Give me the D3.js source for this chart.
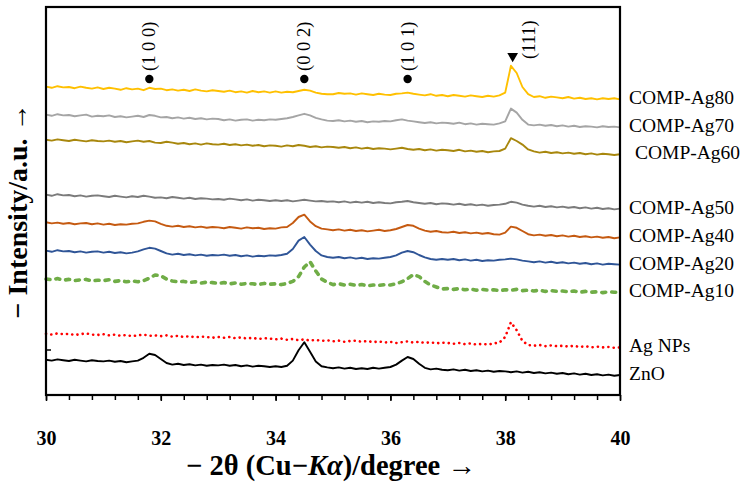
<!DOCTYPE html>
<html lang="en">
<head>
<meta charset="UTF-8">
<script src="https://d3js.org/d3.v7.min.js"></script>
<style>
    body { margin: 0; background: #fff; }
    text { font-family: "Liberation Serif", "Times New Roman", serif; }
    .series { fill: none; stroke-linejoin: round; }
</style>
</head>
<body>
<div id="chart"></div>
<script>
// 2-theta sampling grid, 30.0 .. 40.0 step 0.1
var twoTheta = d3.range(0, 101).map(function (i) { return +(30 + i * 0.1).toFixed(1); });

var ag80 = [77.1,76.8,77.2,76.9,77.0,76.7,77.1,76.8,76.6,76.9,
    76.5,76.8,76.6,76.3,76.7,76.4,76.6,76.2,76.8,76.5,
    76.6,76.2,76.4,76.1,76.3,76.0,76.4,76.1,75.9,76.2,
    76.0,75.8,76.1,75.7,75.9,75.6,76.0,75.7,75.9,75.6,
    75.9,75.6,75.8,75.7,76.0,76.3,76.1,75.6,75.3,75.2,
    75.2,75.5,75.3,75.4,75.1,75.4,75.2,75.0,75.3,75.1,
    75.0,75.3,75.4,75.6,75.3,75.1,74.9,75.2,74.8,75.0,
    74.7,75.0,74.8,74.6,74.9,74.7,74.5,74.8,74.6,74.9,
    75.6,82.3,80.5,77.0,75.2,74.5,74.7,74.3,74.6,74.4,
    74.2,74.5,74.1,74.3,74.0,74.2,73.9,74.2,74.0,74.2,73.9];
var ag70 = [70.1,69.8,70.2,69.9,70.0,69.7,69.9,70.1,69.6,69.8,
    69.7,69.9,69.5,69.7,69.4,69.6,69.8,69.5,70.0,69.8,
    69.4,69.5,69.2,69.4,69.1,69.3,69.0,69.2,68.9,69.1,
    69.0,68.7,68.9,68.6,68.8,68.9,68.6,68.8,68.7,68.9,
    68.8,69.0,69.2,69.5,69.9,70.3,69.9,69.3,68.9,68.6,
    68.5,68.7,68.4,68.6,68.3,68.5,68.2,68.4,68.3,68.5,
    68.4,68.7,68.9,68.6,68.4,68.2,68.0,68.2,67.9,68.1,
    68.0,67.8,68.1,67.7,67.9,67.6,67.8,67.7,67.6,67.9,
    68.4,71.6,70.6,68.8,67.6,67.4,67.6,67.3,67.5,67.2,
    67.4,67.1,67.3,67.0,67.2,67.1,66.9,67.2,67.0,67.1,66.9];
var ag60 = [63.8,63.6,63.9,63.7,63.5,63.8,63.6,63.4,63.7,63.5,
    63.4,63.6,63.3,63.5,63.2,63.4,63.6,63.3,63.5,63.1,
    63.0,63.3,63.1,62.8,63.0,62.7,62.9,62.6,62.9,62.7,
    62.6,62.8,62.5,62.7,62.4,62.6,62.3,62.5,62.2,62.4,
    62.3,62.1,62.4,62.2,62.5,62.3,62.0,62.2,61.9,62.1,
    62.0,61.8,62.0,61.7,61.9,61.6,61.8,61.5,61.7,61.6,
    61.4,61.6,61.8,61.5,61.3,61.5,61.2,61.4,61.1,61.3,
    61.2,61.0,61.3,60.9,61.1,60.8,61.0,60.7,60.9,61.0,
    61.6,64.2,63.5,62.6,61.4,60.9,60.6,60.8,60.5,60.7,
    60.4,60.6,60.3,60.5,60.2,60.4,60.1,60.3,60.2,60.0,60.2];
var ag50 = [50.1,49.8,50.2,49.9,50.0,49.7,49.9,49.6,49.8,49.9,
    49.7,49.5,49.8,49.6,49.4,49.7,49.5,49.8,49.6,49.3,
    49.4,49.2,49.5,49.3,49.1,49.3,49.0,49.2,49.1,48.9,
    49.0,48.8,49.1,48.9,48.7,48.9,48.6,48.8,48.7,48.5,
    48.7,48.5,48.7,48.4,48.6,48.8,48.6,48.4,48.5,48.3,
    48.4,48.2,48.4,48.1,48.3,48.1,48.3,48.0,48.2,48.0,
    47.9,48.2,48.3,48.5,48.2,48.0,47.8,48.0,47.7,47.9,
    47.8,47.6,47.8,47.5,47.7,47.4,47.6,47.3,47.5,47.6,
    47.8,48.3,48.1,47.6,47.3,47.1,47.3,47.0,47.2,46.9,
    47.1,46.8,47.0,46.7,46.9,46.6,46.8,46.5,46.7,46.4,46.6];
var ag40 = [43.2,42.9,43.1,42.8,43.0,42.7,42.9,43.0,42.7,42.9,
    42.6,42.8,42.5,42.7,42.6,42.8,42.9,43.3,43.6,43.4,
    42.8,42.3,42.1,42.3,42.0,42.2,41.9,42.1,41.8,42.0,
    41.9,41.7,42.0,41.8,41.6,41.9,41.7,41.8,41.5,41.7,
    41.6,41.9,42.0,43.0,44.5,45.1,43.4,42.2,41.6,41.4,
    41.2,41.4,41.1,41.3,41.0,41.2,40.9,41.1,41.3,41.0,
    41.2,41.5,42.0,42.5,42.3,41.6,41.1,40.8,41.0,40.7,
    40.6,40.8,40.5,40.7,40.4,40.6,40.3,40.5,40.2,40.1,
    40.6,42.1,41.8,41.0,40.2,39.9,40.1,39.8,40.0,39.7,
    39.9,39.6,39.8,39.5,39.7,39.4,39.6,39.3,39.5,39.2,39.4];
var ag20 = [36.1,35.8,36.2,35.9,36.0,35.7,35.9,35.6,35.8,35.9,
    35.6,35.8,35.5,35.7,35.4,35.6,35.9,36.4,36.8,36.6,
    36.0,35.4,35.1,35.3,35.0,35.2,34.9,35.1,34.8,35.0,
    34.9,35.1,34.8,35.0,34.7,34.9,34.6,34.8,34.7,34.9,
    34.8,35.0,35.3,36.5,38.6,39.5,37.6,36.0,34.9,34.5,
    34.3,34.5,34.2,34.4,34.1,34.3,34.0,34.2,34.1,34.3,
    34.5,34.9,35.6,36.0,35.7,35.0,34.4,34.0,33.8,34.0,
    33.8,34.0,33.7,33.9,33.6,33.8,33.5,33.7,33.6,33.8,
    33.9,34.1,33.9,33.6,33.4,33.2,33.4,33.1,33.3,33.0,
    33.2,32.9,33.1,32.8,33.0,32.7,32.9,32.6,32.8,32.7,32.6];
var ag10 = [29.0,28.8,29.1,28.7,28.9,28.6,28.8,28.9,28.5,28.7,
    28.6,28.8,28.4,28.6,28.3,28.5,28.3,28.6,29.2,30.0,
    29.8,29.0,28.5,28.3,28.4,28.1,28.3,28.0,28.2,28.1,
    27.9,28.1,27.8,28.0,27.7,27.9,27.8,27.6,27.9,27.7,
    27.8,27.6,27.9,28.4,29.6,32.0,33.3,31.0,29.0,28.2,
    27.6,27.8,27.5,27.7,27.4,27.6,27.3,27.5,27.4,27.6,
    27.5,27.8,28.3,29.1,30.1,29.6,28.4,27.5,27.0,26.5,
    26.6,26.4,26.6,26.3,26.5,26.2,26.4,26.2,26.3,26.1,
    26.3,26.2,26.4,26.1,26.2,26.0,26.2,25.9,26.1,25.9,
    26.0,25.8,26.0,25.7,25.9,25.7,25.8,25.6,25.8,25.7,25.7];
var agNPs = [15.3,15.1,15.4,15.2,15.3,15.0,15.2,15.4,15.1,15.0,
    15.2,14.9,15.1,14.8,15.0,14.7,14.9,15.1,14.8,14.9,
    14.7,14.9,14.6,14.8,14.5,14.7,14.4,14.6,14.5,14.3,
    14.5,14.3,14.5,14.2,14.4,14.1,14.3,14.0,14.2,14.1,
    13.9,14.1,13.8,14.0,13.7,13.9,13.6,13.8,13.5,13.7,
    13.4,13.6,13.3,13.5,13.6,13.3,13.5,13.2,13.4,13.1,
    13.3,13.0,13.2,13.4,13.1,13.3,13.0,13.2,12.9,13.1,
    13.0,12.8,13.0,12.7,12.9,12.6,12.8,12.6,12.9,13.1,
    14.5,18.2,16.2,13.5,12.5,12.3,12.5,12.2,12.4,12.2,
    12.3,12.1,12.3,12.0,12.2,11.9,12.1,11.9,12.0,11.8,11.9];
var zno = [8.8,8.6,8.9,8.7,8.5,8.8,8.6,8.4,8.7,8.5,
    8.4,8.6,8.3,8.5,8.2,8.4,8.6,9.3,10.3,10.0,
    9.0,8.0,7.6,7.8,7.5,7.7,7.4,7.6,7.3,7.5,
    7.4,7.6,7.3,7.5,7.2,7.4,7.1,7.3,7.2,7.0,
    7.2,7.0,7.3,8.6,11.2,13.2,10.8,8.4,7.2,6.9,
    6.7,6.9,6.6,6.8,6.5,6.7,6.5,6.8,6.6,6.8,
    7.0,7.6,8.6,9.5,9.0,7.8,6.8,6.4,6.6,6.3,
    6.2,6.4,6.1,6.3,6.0,6.2,5.9,6.1,5.8,6.0,
    5.9,5.7,5.9,5.6,5.8,5.5,5.7,5.4,5.6,5.3,
    5.5,5.2,5.4,5.1,5.3,5.0,5.2,4.9,5.1,4.8,5.0];

var seriesNames = ["COMP-Ag80", "COMP-Ag70", "COMP-Ag60", "COMP-Ag50", "COMP-Ag40",
    "COMP-Ag20", "COMP-Ag10", "Ag NPs", "ZnO"];
var seriesValues = [ag80, ag70, ag60, ag50, ag40, ag20, ag10, agNPs, zno];
var colors = ["#FFC000", "#A5A5A5", "#A8870D", "#7B7B7B", "#C55A11",
    "#2F5597", "#70AD47", "#FF0000", "#000000"];

// reflection markers
var peakLabels = ["(1 0 0)", "(0 0 2)", "(1 0 1)", "(111)"];
var peakPos = [31.8, 34.5, 36.3, 38.13];
var peakPhase = ["ZnO", "ZnO", "ZnO", "Ag"];

var xTicks = [30, 32, 34, 36, 38, 40];

var W = 742, H = 487;
var margin = { top: 7, right: 122, bottom: 92, left: 46 };
var width = W - margin.left - margin.right,
    height = H - margin.top - margin.bottom;

var svg = d3.select("#chart").append("svg")
    .attr("width", W)
    .attr("height", H);
var g = svg.append("g")
    .attr("transform", "translate(" + margin.left + "," + margin.top + ")");

var x = d3.scaleLinear().domain([30, 40]).range([0, width]);
var y = d3.scaleLinear().domain([0, 97]).range([height, 0]);

var line = d3.line()
    .x(function (d, i) { return x(twoTheta[i]); })
    .y(function (d) { return y(d); });

seriesValues.forEach(function (vals, k) {
    var p = g.append("path")
        .attr("class", "series")
        .attr("d", line(vals))
        .attr("stroke", colors[k])
        .attr("stroke-width", 1.9);
    if (seriesNames[k] === "COMP-Ag10") {
        p.attr("stroke-width", 3.6)
            .attr("stroke-linecap", "round")
            .attr("stroke-dasharray", "4 6");
    } else if (seriesNames[k] === "Ag NPs") {
        p.attr("stroke-width", 2.6)
            .attr("stroke-linecap", "round")
            .attr("stroke-dasharray", "0.1 5.2");
    }

    var last = vals[vals.length - 1];
    g.append("text")
        .attr("x", width + 9 + (seriesNames[k] === "COMP-Ag60" ? 6 : 0))
        .attr("y", y(last) + 5)
        .style("font-size", "19.5px")
        .text(seriesNames[k]);
});

// frame
g.append("rect")
    .attr("width", width)
    .attr("height", height)
    .attr("fill", "none")
    .attr("stroke", "#000")
    .attr("stroke-width", 2.2);

// bottom axis: minor ticks every 0.4
var minor = d3.range(0, 26).map(function (i) { return 30 + i * 0.4; });
g.append("g")
    .attr("transform", "translate(0," + height + ")")
    .call(d3.axisBottom(x).tickValues(minor).tickSize(5).tickFormat(""))
    .call(function (s) {
        s.select(".domain").remove();
        s.selectAll("line").attr("stroke-width", 1.5);
    });
var xAxis = g.append("g")
    .attr("transform", "translate(0," + height + ")")
    .call(d3.axisBottom(x).tickValues(xTicks).tickSize(6).tickPadding(30).tickFormat(d3.format("d")));
xAxis.select(".domain").remove();
xAxis.selectAll("line").attr("stroke-width", 1.5);
xAxis.selectAll("text")
    .style("font-family", "'Liberation Serif', serif")
    .style("font-size", "20px")
    .style("font-weight", "bold")
    .attr("fill", "#000");

// single tick on left axis
g.append("line")
    .attr("x1", 0).attr("x2", 5)
    .attr("y1", y(11.25)).attr("y2", y(11.25))
    .attr("stroke", "#000").attr("stroke-width", 1.5);

// peak markers
peakLabels.forEach(function (lab, k) {
    var px = x(peakPos[k]);
    if (peakPhase[k] === "ZnO") {
        g.append("circle")
            .attr("cx", px).attr("cy", 72)
            .attr("r", 4.2)
            .attr("fill", "#000");
        g.append("text")
            .attr("transform", "translate(" + (px + 6) + ",64)rotate(-90)")
            .style("font-size", "18.5px")
            .text(lab);
    } else {
        g.append("path")
            .attr("d", d3.symbol().type(d3.symbolTriangle).size(50)())
            .attr("transform", "translate(" + px + ",49)rotate(180)")
            .attr("fill", "#000");
        g.append("text")
            .attr("transform", "translate(" + (px + 22) + ",52)rotate(-90)")
            .style("font-size", "18.5px")
            .text(lab);
    }
});

// axis titles
var xt = svg.append("text")
    .attr("x", margin.left + width / 2 - 2)
    .attr("y", 475)
    .attr("text-anchor", "middle")
    .style("font-size", "28.5px")
    .style("font-weight", "bold");
xt.append("tspan").text("\u2212 2\u03B8 (Cu\u2212");
xt.append("tspan").style("font-style", "italic").text("K\u03B1");
xt.append("tspan").text(")/degree \u2192");

svg.append("text")
    .attr("transform", "translate(27," + (margin.top + 204) + ")rotate(-90)")
    .attr("text-anchor", "middle")
    .style("font-size", "28px")
    .style("font-weight", "bold")
    .text("\u2212 Intensity/a.u. \u2192");
</script>
</body>
</html>
